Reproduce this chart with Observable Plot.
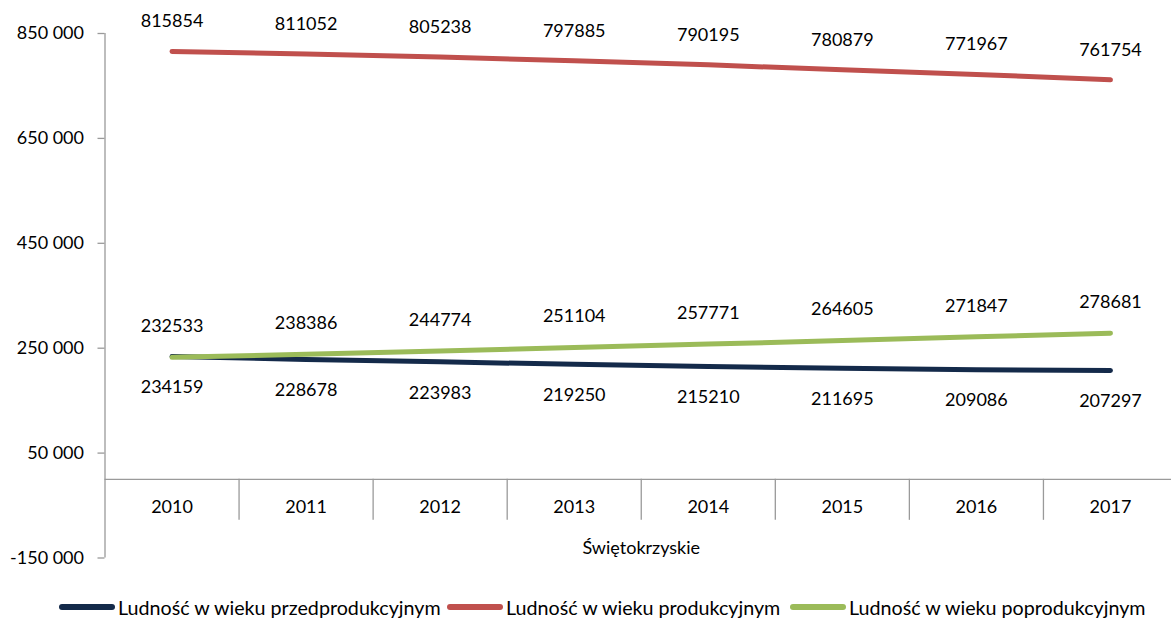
<!DOCTYPE html>
<html><head><meta charset="utf-8">
<script src="https://cdn.jsdelivr.net/npm/d3@7"></script>
<script src="https://cdn.jsdelivr.net/npm/@observablehq/plot@0.6"></script>
<style>
body{margin:0;background:#fff;font-family:Lato, sans-serif;overflow:hidden;}
#chart svg{overflow:visible;display:block;}
#legend{position:relative;height:30px;width:1171px;}
.item{position:absolute;top:0;height:30px;display:flex;align-items:center;font-size:19.7px;color:#000;white-space:nowrap;}
.sw{width:56px;height:6px;border-radius:3px;margin-right:3px;}
</style></head><body>
<div id="chart"></div>
<div id="legend"></div>
<script>
const years = [2010, 2011, 2012, 2013, 2014, 2015, 2016, 2017];
const przedprodukcyjny = [234159, 228678, 223983, 219250, 215210, 211695, 209086, 207297];
const produkcyjny = [815854, 811052, 805238, 797885, 790195, 780879, 771967, 761754];
const poprodukcyjny = [232533, 238386, 244774, 251104, 257771, 264605, 271847, 278681];
const seriesNames = ["Ludność w wieku przedprodukcyjnym", "Ludność w wieku produkcyjnym", "Ludność w wieku poprodukcyjnym"];
const seriesColors = ["#142a4a", "#c0504d", "#9bbb59"];
const yTicks = [-150000, 50000, 250000, 450000, 650000, 850000];
const regionLabel = "Świętokrzyskie";

const fmt = d3.formatLocale({decimal: ",", thousands: " ", grouping: [3], currency: ["", ""], minus: "-"}).format(",");
const rows = (vals, s) => years.map((y, i) => ({year: y, value: vals[i], series: s}));
const dPrzed = rows(przedprodukcyjny, seriesNames[0]);
const dProd = rows(produkcyjny, seriesNames[1]);
const dPopr = rows(poprodukcyjny, seriesNames[2]);
const bounds = [years[0] - 0.5, ...years.map(y => y + 0.5)];
const gray = "#9a9a9a";

const chart = Plot.plot({
  width: 1171,
  height: 592,
  marginLeft: 104.5,
  marginRight: 0,
  marginTop: 33,
  marginBottom: 34.5,
  style: {fontFamily: "Lato, sans-serif", fontSize: "18px", background: "#fff", color: "#000"},
  x: {domain: [years[0] - 0.5, years[years.length - 1] + 0.5], range: [104.5, 1177]},
  y: {domain: [yTicks[0], yTicks[yTicks.length - 1]]},
  marks: [
    Plot.axisY(yTicks, {tickFormat: fmt, tickSize: 7, tickPadding: 14, stroke: gray, strokeWidth: 1.3, fill: "#000", fontSize: 18, label: null}),
    Plot.axisX([], {label: null, tickSize: 0}),
    Plot.ruleX([bounds[0]], {stroke: gray, strokeWidth: 1.3}),
    Plot.ruleY([0], {stroke: gray, strokeWidth: 1.3}),
    Plot.ruleX(bounds.slice(1), {y1: 0, y2: 0, insetBottom: -41, stroke: gray, strokeWidth: 1.3}),
    Plot.text(years, {x: d => d, y: 0, text: d => String(d), dy: 28, fontSize: 18, fill: "#000"}),
    Plot.text([regionLabel], {x: (years[0] + years[years.length - 1]) / 2, y: 0, text: d => d, dy: 69, fontSize: 18, fill: "#000"}),
    Plot.line(dPrzed, {x: "year", y: "value", stroke: seriesColors[0], strokeWidth: 5, strokeLinecap: "round", curve: "linear"}),
    Plot.line(dProd, {x: "year", y: "value", stroke: seriesColors[1], strokeWidth: 5, strokeLinecap: "round"}),
    Plot.line(dPopr, {x: "year", y: "value", stroke: seriesColors[2], strokeWidth: 5, strokeLinecap: "round"}),
    Plot.text(dProd, {x: "year", y: "value", text: d => String(d.value), dy: -30, fontSize: 18, fill: "#000"}),
    Plot.text(dPopr, {x: "year", y: "value", text: d => String(d.value), dy: -31, fontSize: 18, fill: "#000"}),
    Plot.text(dPrzed, {x: "year", y: "value", text: d => String(d.value), dy: 31, fontSize: 18, fill: "#000"})
  ]
});
document.getElementById("chart").appendChild(chart);

const legendLefts = [59, 447, 790];
const legend = document.getElementById("legend");
seriesNames.forEach((name, i) => {
  const it = document.createElement("div");
  it.className = "item";
  it.style.left = legendLefts[i] + "px";
  const sw = document.createElement("div");
  sw.className = "sw";
  sw.style.background = seriesColors[i];
  const tx = document.createElement("span");
  tx.textContent = name;
  it.appendChild(sw);
  it.appendChild(tx);
  legend.appendChild(it);
});
</script>
</body></html>
